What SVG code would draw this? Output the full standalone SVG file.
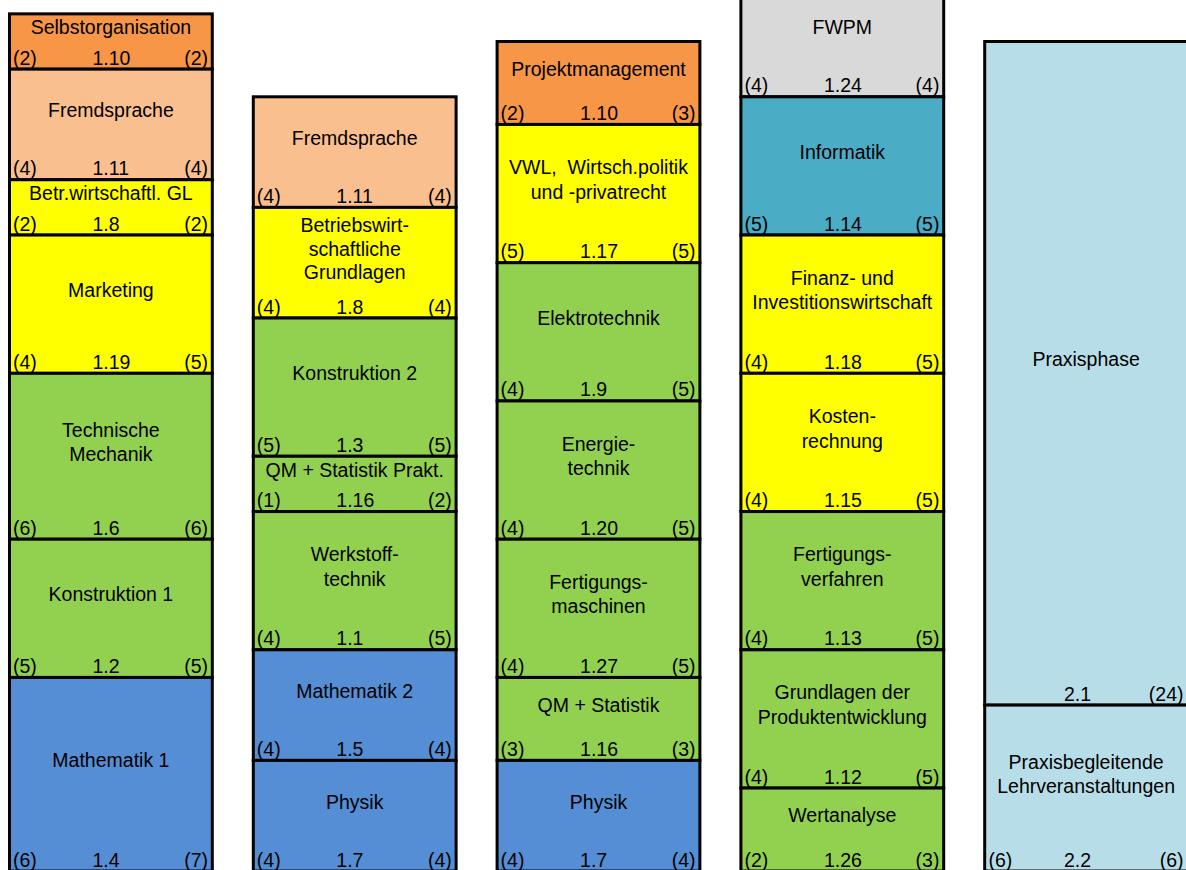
<svg xmlns="http://www.w3.org/2000/svg" width="1186" height="870" viewBox="0 0 1186 870">
<style>
rect{stroke:#000;stroke-width:3}
.or{fill:#F79646}.pe{fill:#FABF8F}.ye{fill:#FFFF00}.gr{fill:#92D050}.bl{fill:#558ED5}.te{fill:#4BACC6}.gy{fill:#D9D9D9}.lb{fill:#B7DEE8}
text{font-family:"Liberation Sans",Arial,sans-serif;font-size:19.5px;fill:#000}
.t{text-anchor:middle}
.e{text-anchor:end}
</style>
<rect width="1186" height="870" fill="#fff" style="stroke:none"/>

<!-- Column 1 -->
<g id="c1-selbstorganisation">
<rect class="or" x="9.5" y="13.85" width="202.8" height="55.3"/>
<text class="t" x="110.9" y="34.3">Selbstorganisation</text>
<text x="13" y="64.65">(2)</text><text x="92.5" y="64.65">1.10</text><text class="e" x="208" y="64.65">(2)</text>
</g>
<g id="c1-fremdsprache">
<rect class="pe" x="9.5" y="69.15" width="202.8" height="110.6"/>
<text class="t" x="110.9" y="117.2">Fremdsprache</text>
<text x="13" y="175.25">(4)</text><text x="92.5" y="175.25">1.11</text><text class="e" x="208" y="175.25">(4)</text>
</g>
<g id="c1-betrwirt">
<rect class="ye" x="9.5" y="179.75" width="202.8" height="55.3"/>
<text class="t" x="110.9" y="200.2">Betr.wirtschaftl. GL</text>
<text x="13" y="230.55">(2)</text><text x="92.5" y="230.55">1.8</text><text class="e" x="208" y="230.55">(2)</text>
</g>
<g id="c1-marketing">
<rect class="ye" x="9.5" y="235.05" width="202.8" height="138.25"/>
<text class="t" x="110.9" y="296.95">Marketing</text>
<text x="13" y="368.8">(4)</text><text x="92.5" y="368.8">1.19</text><text class="e" x="208" y="368.8">(5)</text>
</g>
<g id="c1-techmech">
<rect class="gr" x="9.5" y="373.3" width="202.8" height="165.9"/>
<text class="t" x="110.9" y="436.8">Technische</text>
<text class="t" x="110.9" y="461.3">Mechanik</text>
<text x="13" y="534.7">(6)</text><text x="92.5" y="534.7">1.6</text><text class="e" x="208" y="534.7">(6)</text>
</g>
<g id="c1-konstruktion1">
<rect class="gr" x="9.5" y="539.2" width="202.8" height="138.25"/>
<text class="t" x="110.9" y="601.1">Konstruktion 1</text>
<text x="13" y="672.95">(5)</text><text x="92.5" y="672.95">1.2</text><text class="e" x="208" y="672.95">(5)</text>
</g>
<g id="c1-mathematik1">
<rect class="bl" x="9.5" y="677.45" width="202.8" height="193.55"/>
<text class="t" x="110.9" y="767">Mathematik 1</text>
<text x="13" y="866.5">(6)</text><text x="92.5" y="866.5">1.4</text><text class="e" x="208" y="866.5">(7)</text>
</g>

<!-- Column 2 -->
<g id="c2-fremdsprache">
<rect class="pe" x="253.3" y="96.8" width="202.8" height="110.6"/>
<text class="t" x="354.7" y="144.9">Fremdsprache</text>
<text x="256.8" y="202.9">(4)</text><text x="336.3" y="202.9">1.11</text><text class="e" x="451.8" y="202.9">(4)</text>
</g>
<g id="c2-betriebswirt">
<rect class="ye" x="253.3" y="207.4" width="202.8" height="110.6"/>
<text class="t" x="354.7" y="232">Betriebswirt-</text>
<text class="t" x="354.7" y="255.5">schaftliche</text>
<text class="t" x="354.7" y="279">Grundlagen</text>
<text x="256.8" y="313.5">(4)</text><text x="336.3" y="313.5">1.8</text><text class="e" x="451.8" y="313.5">(4)</text>
</g>
<g id="c2-konstruktion2">
<rect class="gr" x="253.3" y="318" width="202.8" height="138.25"/>
<text class="t" x="354.7" y="379.9">Konstruktion 2</text>
<text x="256.8" y="451.75">(5)</text><text x="336.3" y="451.75">1.3</text><text class="e" x="451.8" y="451.75">(5)</text>
</g>
<g id="c2-qmprakt">
<rect class="gr" x="253.3" y="456.25" width="202.8" height="55.3"/>
<text class="t" x="354.7" y="476.7">QM + Statistik Prakt.</text>
<text x="256.8" y="507.05">(1)</text><text x="336.3" y="507.05">1.16</text><text class="e" x="451.8" y="507.05">(2)</text>
</g>
<g id="c2-werkstoff">
<rect class="gr" x="253.3" y="511.55" width="202.8" height="138.25"/>
<text class="t" x="354.7" y="561.2">Werkstoff-</text>
<text class="t" x="354.7" y="585.7">technik</text>
<text x="256.8" y="645.3">(4)</text><text x="336.3" y="645.3">1.1</text><text class="e" x="451.8" y="645.3">(5)</text>
</g>
<g id="c2-mathematik2">
<rect class="bl" x="253.3" y="649.8" width="202.8" height="110.6"/>
<text class="t" x="354.7" y="697.9">Mathematik 2</text>
<text x="256.8" y="755.9">(4)</text><text x="336.3" y="755.9">1.5</text><text class="e" x="451.8" y="755.9">(4)</text>
</g>
<g id="c2-physik">
<rect class="bl" x="253.3" y="760.4" width="202.8" height="110.6"/>
<text class="t" x="354.7" y="808.5">Physik</text>
<text x="256.8" y="866.5">(4)</text><text x="336.3" y="866.5">1.7</text><text class="e" x="451.8" y="866.5">(4)</text>
</g>

<!-- Column 3 -->
<g id="c3-projektmanagement">
<rect class="or" x="497.1" y="41.5" width="202.8" height="82.95"/>
<text class="t" x="598.5" y="75.75">Projektmanagement</text>
<text x="500.6" y="119.95">(2)</text><text x="580.1" y="119.95">1.10</text><text class="e" x="695.6" y="119.95">(3)</text>
</g>
<g id="c3-vwl">
<rect class="ye" x="497.1" y="124.45" width="202.8" height="138.25"/>
<text class="t" x="598.5" y="174.1" xml:space="preserve">VWL,  Wirtsch.politik</text>
<text class="t" x="598.5" y="198.6">und -privatrecht</text>
<text x="500.6" y="258.2">(5)</text><text x="580.1" y="258.2">1.17</text><text class="e" x="695.6" y="258.2">(5)</text>
</g>
<g id="c3-elektrotechnik">
<rect class="gr" x="497.1" y="262.7" width="202.8" height="138.25"/>
<text class="t" x="598.5" y="324.6">Elektrotechnik</text>
<text x="500.6" y="396.45">(4)</text><text x="580.1" y="396.45">1.9</text><text class="e" x="695.6" y="396.45">(5)</text>
</g>
<g id="c3-energietechnik">
<rect class="gr" x="497.1" y="400.95" width="202.8" height="138.25"/>
<text class="t" x="598.5" y="450.6">Energie-</text>
<text class="t" x="598.5" y="475.1">technik</text>
<text x="500.6" y="534.7">(4)</text><text x="580.1" y="534.7">1.20</text><text class="e" x="695.6" y="534.7">(5)</text>
</g>
<g id="c3-fertigungsmaschinen">
<rect class="gr" x="497.1" y="539.2" width="202.8" height="138.25"/>
<text class="t" x="598.5" y="588.85">Fertigungs-</text>
<text class="t" x="598.5" y="613.35">maschinen</text>
<text x="500.6" y="672.95">(4)</text><text x="580.1" y="672.95">1.27</text><text class="e" x="695.6" y="672.95">(5)</text>
</g>
<g id="c3-qmstatistik">
<rect class="gr" x="497.1" y="677.45" width="202.8" height="82.95"/>
<text class="t" x="598.5" y="711.7">QM + Statistik</text>
<text x="500.6" y="755.9">(3)</text><text x="580.1" y="755.9">1.16</text><text class="e" x="695.6" y="755.9">(3)</text>
</g>
<g id="c3-physik">
<rect class="bl" x="497.1" y="760.4" width="202.8" height="110.6"/>
<text class="t" x="598.5" y="808.5">Physik</text>
<text x="500.6" y="866.5">(4)</text><text x="580.1" y="866.5">1.7</text><text class="e" x="695.6" y="866.5">(4)</text>
</g>

<!-- Column 4 -->
<g id="c4-fwpm">
<rect class="gy" x="740.9" y="-13.8" width="202.8" height="110.6"/>
<text class="t" x="842.3" y="34.3">FWPM</text>
<text x="744.4" y="92.3">(4)</text><text x="823.9" y="92.3">1.24</text><text class="e" x="939.4" y="92.3">(4)</text>
</g>
<g id="c4-informatik">
<rect class="te" x="740.9" y="96.8" width="202.8" height="138.25"/>
<text class="t" x="842.3" y="158.7">Informatik</text>
<text x="744.4" y="230.55">(5)</text><text x="823.9" y="230.55">1.14</text><text class="e" x="939.4" y="230.55">(5)</text>
</g>
<g id="c4-finanz">
<rect class="ye" x="740.9" y="235.05" width="202.8" height="138.25"/>
<text class="t" x="842.3" y="284.7">Finanz- und</text>
<text class="t" x="842.3" y="309.2">Investitionswirtschaft</text>
<text x="744.4" y="368.8">(4)</text><text x="823.9" y="368.8">1.18</text><text class="e" x="939.4" y="368.8">(5)</text>
</g>
<g id="c4-kostenrechnung">
<rect class="ye" x="740.9" y="373.3" width="202.8" height="138.25"/>
<text class="t" x="842.3" y="423">Kosten-</text>
<text class="t" x="842.3" y="447.5">rechnung</text>
<text x="744.4" y="507.05">(4)</text><text x="823.9" y="507.05">1.15</text><text class="e" x="939.4" y="507.05">(5)</text>
</g>
<g id="c4-fertigungsverfahren">
<rect class="gr" x="740.9" y="511.55" width="202.8" height="138.25"/>
<text class="t" x="842.3" y="561.2">Fertigungs-</text>
<text class="t" x="842.3" y="585.7">verfahren</text>
<text x="744.4" y="645.3">(4)</text><text x="823.9" y="645.3">1.13</text><text class="e" x="939.4" y="645.3">(5)</text>
</g>
<g id="c4-produktentwicklung">
<rect class="gr" x="740.9" y="649.8" width="202.8" height="138.25"/>
<text class="t" x="842.3" y="699.45">Grundlagen der</text>
<text class="t" x="842.3" y="723.95">Produktentwicklung</text>
<text x="744.4" y="783.55">(4)</text><text x="823.9" y="783.55">1.12</text><text class="e" x="939.4" y="783.55">(5)</text>
</g>
<g id="c4-wertanalyse">
<rect class="gr" x="740.9" y="788.05" width="202.8" height="82.95"/>
<text class="t" x="842.3" y="822.3">Wertanalyse</text>
<text x="744.4" y="866.5">(2)</text><text x="823.9" y="866.5">1.26</text><text class="e" x="939.4" y="866.5">(3)</text>
</g>

<!-- Column 5 -->
<g id="c5-praxisphase">
<rect class="lb" x="984.7" y="41.5" width="202.8" height="663.6"/>
<text class="t" x="1086.1" y="366.1">Praxisphase</text>
<text x="1064" y="700.6">2.1</text><text class="e" x="1183.5" y="700.6">(24)</text>
</g>
<g id="c5-praxisbegleitende">
<rect class="lb" x="984.7" y="705.1" width="202.8" height="165.9"/>
<text class="t" x="1086.1" y="768.6">Praxisbegleitende</text>
<text class="t" x="1086.1" y="793.1">Lehrveranstaltungen</text>
<text x="988.5" y="866.5">(6)</text><text x="1064" y="866.5">2.2</text><text class="e" x="1183.5" y="866.5">(6)</text>
</g>
</svg>
